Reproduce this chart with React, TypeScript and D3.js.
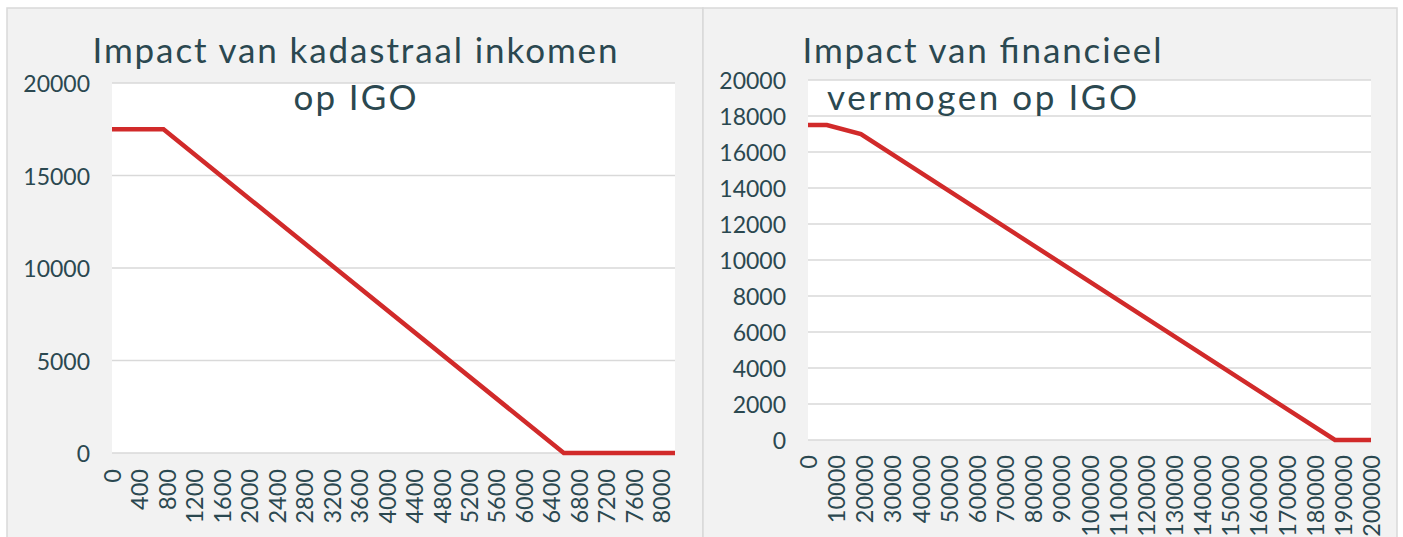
import React from "react";
import * as d3 from "d3";

// Left chart: impact van kadastraal inkomen op IGO
const kiX = [0, 750, 6580, 8200];
const kiY = [17500, 17500, 0, 0];
const kiXTicks = [0, 400, 800, 1200, 1600, 2000, 2400, 2800, 3200, 3600, 4000, 4400, 4800, 5200, 5600, 6000, 6400, 6800, 7200, 7600, 8000];
const kiYTicks = [0, 5000, 10000, 15000, 20000];
const kiTitle = ["Impact van kadastraal inkomen", "op IGO"];

// Right chart: impact van financieel vermogen op IGO
const fvX = [0, 6700, 18800, 187200, 200000];
const fvY = [17500, 17500, 17000, 0, 0];
const fvXTicks = [0, 10000, 20000, 30000, 40000, 50000, 60000, 70000, 80000, 90000, 100000, 110000, 120000, 130000, 140000, 150000, 160000, 170000, 180000, 190000, 200000];
const fvYTicks = [0, 2000, 4000, 6000, 8000, 10000, 12000, 14000, 16000, 18000, 20000];
const fvTitle = ["Impact van financieel", "vermogen op IGO"];

const FONT = "Lato, 'Open Sans', sans-serif";
const TEXT = "#2b4850";
const GRID = "#d9d9d9";
const RED = "#d12a2a";

type ChartProps = {
  xs: number[];
  ys: number[];
  xTicks: number[];
  yTicks: number[];
  xDomain: [number, number];
  plot: { x0: number; x1: number; y0: number; y1: number };
  title: string[];
  titleX: number;
  titleWidths: number[];
  labelGap: number;
};

function Chart({ xs, ys, xTicks, yTicks, xDomain, plot, title, titleX, titleWidths, labelGap }: ChartProps) {
  const x = d3.scaleLinear().domain(xDomain).range([plot.x0, plot.x1]);
  const y = d3.scaleLinear().domain([0, 20000]).range([plot.y1, plot.y0]);
  const pts = xs.map((v, i) => [v, ys[i]] as [number, number]);
  const line = d3
    .line<[number, number]>()
    .x((d) => x(d[0]))
    .y((d) => y(d[1]));
  return (
    <g>
      <rect x={plot.x0} y={plot.y0} width={plot.x1 - plot.x0} height={plot.y1 - plot.y0} fill="#ffffff" />
      {yTicks.map((t) => (
        <line key={"g" + t} x1={plot.x0} x2={plot.x1} y1={y(t)} y2={y(t)} stroke={GRID} strokeWidth={1.6} />
      ))}
      {yTicks.map((t) => (
        <text
          key={"yl" + t}
          x={plot.x0 - 22}
          y={y(t)}
          textAnchor="end"
          dominantBaseline="central"
          fontFamily={FONT}
          fontSize={23}
          fill={TEXT}
        >
          {t}
        </text>
      ))}
      {xTicks.map((t) => (
        <text
          key={"xl" + t}
          transform={`translate(${x(t)},${plot.y1 + labelGap}) rotate(-90)`}
          textAnchor="end"
          dominantBaseline="central"
          fontFamily={FONT}
          fontSize={23.5}
          fill={TEXT}
        >
          {t}
        </text>
      ))}
      <path d={line(pts) || ""} fill="none" stroke={RED} strokeWidth={4.5} strokeLinejoin="miter" />
      {title.map((s, i) => (
        <text
          key={"t" + i}
          x={titleX}
          y={63 + i * 47}
          textAnchor="middle"
          fontFamily={FONT}
          fontSize={35}
          fill={TEXT}
          textLength={titleWidths[i]}
          lengthAdjust="spacing"
        >
          {s}
        </text>
      ))}
    </g>
  );
}

export default function App() {
  return (
    <div style={{ position: "fixed", left: 0, top: 0 }}>
      <svg width={1403} height={537} style={{ display: "block" }}>
        <rect x={0} y={0} width={1403} height={537} fill="#ffffff" />
        <rect x={7} y={8} width={696} height={540} fill="#f2f2f2" stroke="#d9d9d9" strokeWidth={1.5} />
        <rect x={703} y={8} width={694} height={540} fill="#f2f2f2" stroke="#d9d9d9" strokeWidth={1.5} />
        <Chart
          xs={kiX}
          ys={kiY}
          xTicks={kiXTicks}
          yTicks={kiYTicks}
          xDomain={[0, 8200]}
          plot={{ x0: 112, x1: 675, y0: 83, y1: 453 }}
          title={kiTitle}
          titleX={355}
          titleWidths={[525, 123]}
          labelGap={16}
        />
        <Chart
          xs={fvX}
          ys={fvY}
          xTicks={fvXTicks}
          yTicks={fvYTicks}
          xDomain={[0, 200000]}
          plot={{ x0: 808, x1: 1371, y0: 80, y1: 440 }}
          title={fvTitle}
          titleX={982}
          titleWidths={[359, 310]}
          labelGap={15}
        />
      </svg>
    </div>
  );
}
